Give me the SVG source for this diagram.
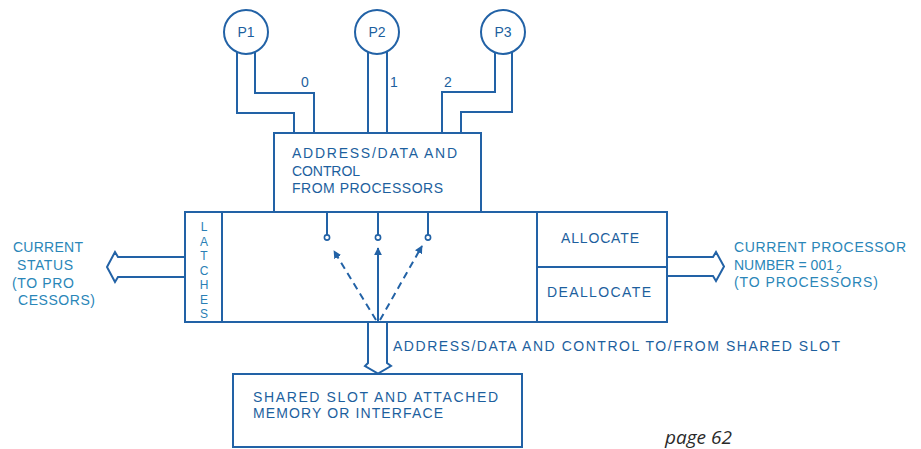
<svg xmlns="http://www.w3.org/2000/svg" width="921" height="449" viewBox="0 0 921 449">
<style>
.ln{fill:none;stroke:#2262a6;stroke-width:2;stroke-linejoin:miter}
.bx{fill:#ffffff;stroke:#2262a6;stroke-width:2}
.t{font-family:"Liberation Sans",Arial,sans-serif;font-size:14px;fill:#1d5f9e}
.s{font-family:"Liberation Sans",Arial,sans-serif;font-size:14px;fill:#2a86b8}
.v{font-family:"Liberation Sans",Arial,sans-serif;font-size:12px;fill:#2a7fb5;text-anchor:middle}
.c{text-anchor:middle}
.dash{stroke-dasharray:7 5}
</style>
<defs>
<marker id="ah" viewBox="0 0 10 10" refX="9" refY="5" markerWidth="4" markerHeight="4" orient="auto" markerUnits="strokeWidth">
<path d="M0,0 L10,5 L0,10 z" fill="#2262a6"/>
</marker>
</defs>
<rect width="921" height="449" fill="#ffffff"/>

<g id="connectors">
<path class="ln" d="M237,52 V113 H294 V133"/>
<path class="ln" d="M255,52 V93 H314 V133"/>
<path class="ln" d="M368,52 V133"/>
<path class="ln" d="M387,52 V133"/>
<path class="ln" d="M495,52 V92 H442 V133"/>
<path class="ln" d="M512,52 V112 H461 V133"/>
<path class="ln" d="M185,257 H118 L115,252 L107,267 L115,282 L118,277 H185"/>
<path class="ln" d="M667,257 H713 L716,252 L724,266.5 L716,281 L713,276 H667"/>
<path class="ln" d="M368,322 V363 L365,366 L378,373.5 L391,366 L387,363 V322"/>
</g>

<g id="p1"><circle class="bx" cx="246" cy="32" r="22"/><text class="t c" x="246" y="37">P1</text></g>
<g id="p2"><circle class="bx" cx="377" cy="32" r="22"/><text class="t c" x="377" y="37">P2</text></g>
<g id="p3"><circle class="bx" cx="503" cy="32" r="22"/><text class="t c" x="503" y="37">P3</text></g>

<g id="wire-labels">
<text class="t c" x="305" y="87">0</text>
<text class="t c" x="394" y="87">1</text>
<text class="t c" x="448" y="87">2</text>
</g>

<g id="from-processors">
<rect class="bx" x="274" y="133" width="207" height="79"/>
<text class="t" x="292" y="158" textLength="165" lengthAdjust="spacing">ADDRESS/DATA  AND</text>
<text class="t" x="292" y="176" textLength="68" lengthAdjust="spacing">CONTROL</text>
<text class="t" x="292" y="193" textLength="151" lengthAdjust="spacing">FROM PROCESSORS</text>
</g>

<g id="switch-box">
<rect class="bx" x="185" y="212" width="482" height="110"/>
<line class="ln" x1="222" y1="212" x2="222" y2="322"/>
<line class="ln" x1="537" y1="212" x2="537" y2="322"/>
<line class="ln" x1="537" y1="267" x2="667" y2="267"/>
<path class="ln" d="M327,212 V235 M378,212 V235 M428,212 V235"/>
<circle cx="327" cy="237.5" r="2.6" fill="#fff" stroke="#2262a6" stroke-width="1.6"/>
<circle cx="378" cy="237.5" r="2.6" fill="#fff" stroke="#2262a6" stroke-width="1.6"/>
<circle cx="428" cy="237.5" r="2.6" fill="#fff" stroke="#2262a6" stroke-width="1.6"/>
<line class="ln" x1="378" y1="321" x2="378" y2="248" marker-end="url(#ah)"/>
<line class="ln dash" x1="376" y1="320" x2="334" y2="251" marker-end="url(#ah)"/>
<line class="ln dash" x1="380" y1="320" x2="422" y2="246" marker-end="url(#ah)"/>
</g>

<g id="latches">
<text class="v" x="204" y="231">L</text>
<text class="v" x="204" y="245.5">A</text>
<text class="v" x="204" y="260">T</text>
<text class="v" x="204" y="274.5">C</text>
<text class="v" x="204" y="289">H</text>
<text class="v" x="204" y="303.5">E</text>
<text class="v" x="204" y="318">S</text>
</g>

<g id="allocate"><text class="t" x="561" y="243" textLength="78" lengthAdjust="spacing">ALLOCATE</text></g>
<g id="deallocate"><text class="t" x="547" y="297" textLength="104" lengthAdjust="spacing">DEALLOCATE</text></g>

<g id="current-status">
<text class="s" x="13" y="252" textLength="70" lengthAdjust="spacing">CURRENT</text>
<text class="s" x="17" y="270" textLength="56" lengthAdjust="spacing">STATUS</text>
<text class="s" x="12" y="288" textLength="62" lengthAdjust="spacing">(TO PRO</text>
<text class="s" x="18" y="305" textLength="77" lengthAdjust="spacing">CESSORS)</text>
</g>

<g id="current-processor">
<text class="s" x="734" y="252" textLength="172" lengthAdjust="spacing">CURRENT PROCESSOR</text>
<text class="s" x="734" y="270">NUMBER = 001<tspan font-size="10" dx="2" dy="3">2</tspan></text>
<text class="s" x="734" y="287" textLength="144" lengthAdjust="spacing">(TO PROCESSORS)</text>
</g>

<g id="bus-label"><text class="t" x="393" y="351" textLength="447" lengthAdjust="spacing">ADDRESS/DATA AND CONTROL TO/FROM SHARED SLOT</text></g>

<g id="shared-slot">
<rect class="bx" x="233" y="374" width="289" height="73"/>
<text class="t" x="253" y="402" textLength="245" lengthAdjust="spacing">SHARED SLOT AND ATTACHED</text>
<text class="t" x="253" y="418" textLength="190" lengthAdjust="spacing">MEMORY OR INTERFACE</text>
</g>

<text x="665" y="444" font-family="'Open Sans','Liberation Sans',sans-serif" font-style="italic" font-size="19" fill="#2a2a2a">page 62</text>
</svg>
